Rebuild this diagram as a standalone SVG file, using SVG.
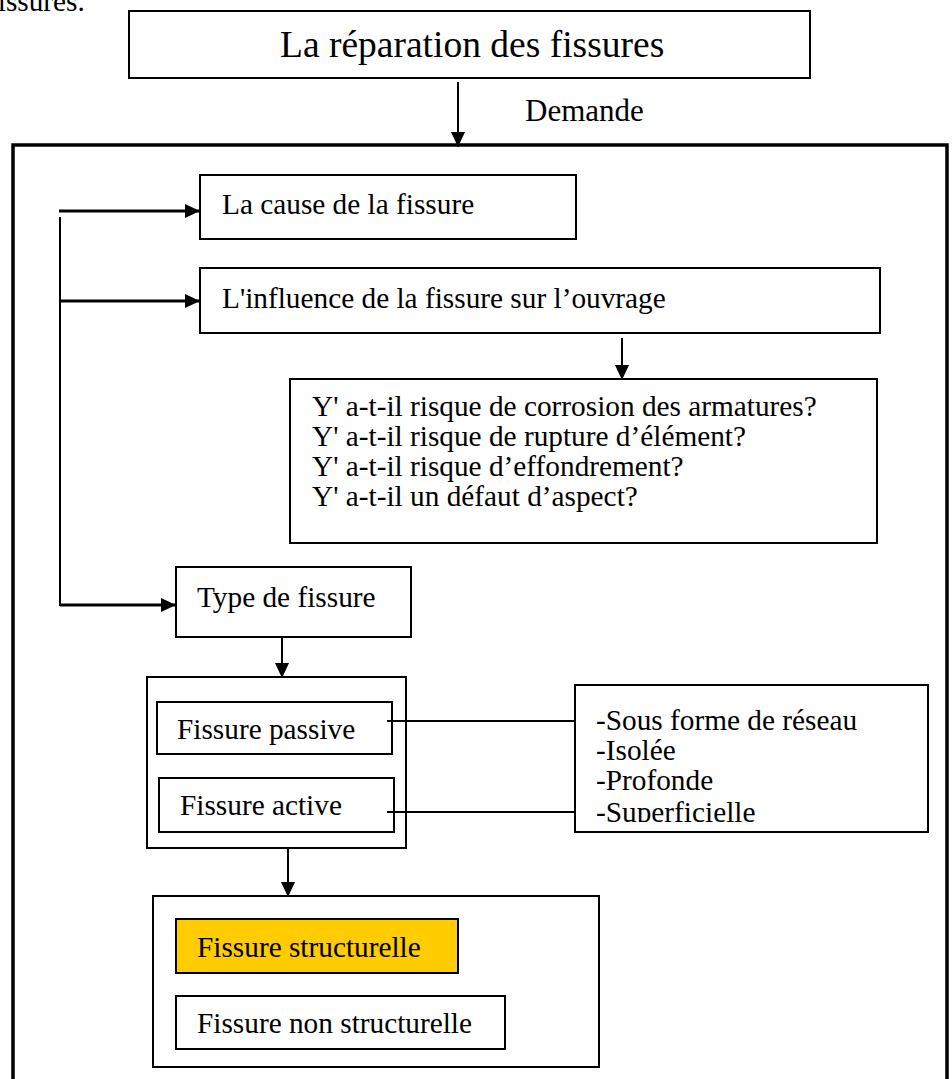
<svg xmlns="http://www.w3.org/2000/svg" width="952" height="1079" viewBox="0 0 952 1079">
<style>
  text { font-family: "Liberation Serif", "Times New Roman", serif; fill: #000; }
  .t { font-size: 29.3px; }
  .box { fill: #fff; stroke: #000; stroke-width: 2; }
  .ln { fill: none; stroke: #000; stroke-width: 2; }
  .lnt { fill: none; stroke: #000; stroke-width: 3; }
</style>
<defs>
  <marker id="ah" markerUnits="userSpaceOnUse" markerWidth="16" markerHeight="14" refX="15" refY="7" orient="auto">
    <path d="M0,0 L15,7 L0,14 z" fill="#000"/>
  </marker>
  <clipPath id="listclip"><rect x="575" y="685" width="353" height="137"/></clipPath>
</defs>
<rect width="952" height="1079" fill="#fff"/>

<text class="t" x="-12" y="11">fissures.</text>

<g id="outer">
  <rect x="13" y="145" width="934" height="980" fill="none" stroke="#000" stroke-width="3.5"/>
</g>

<g id="title">
  <rect class="box" x="129" y="11" width="681" height="67"/>
  <text x="280" y="57" style="font-size:37.5px">La réparation des fissures</text>
</g>

<g id="demande-label">
  <text x="525" y="121" style="font-size:31px">Demande</text>
</g>

<g id="cause">
  <rect class="box" x="200" y="175" width="376" height="64"/>
  <text class="t" x="222" y="214">La cause de la fissure</text>
</g>

<g id="influence">
  <rect class="box" x="200" y="268" width="680" height="65"/>
  <text class="t" x="222" y="308">L'influence de la fissure sur l’ouvrage</text>
</g>

<g id="questions">
  <rect class="box" x="290" y="379" width="587" height="164"/>
  <text class="t" x="312" y="416">Y' a-t-il risque de corrosion des armatures?</text>
  <text class="t" x="312" y="446">Y' a-t-il risque de rupture d’élément?</text>
  <text class="t" x="312" y="476">Y' a-t-il risque d’effondrement?</text>
  <text class="t" x="312" y="506">Y' a-t-il un défaut d’aspect?</text>
</g>

<g id="type">
  <rect class="box" x="176" y="567" width="235" height="70"/>
  <text class="t" x="197" y="607">Type de fissure</text>
</g>

<g id="activity-group">
  <rect class="box" x="147" y="677" width="259" height="171"/>
</g>
<g id="passive">
  <rect class="box" x="157" y="702" width="235" height="52"/>
  <text class="t" x="177" y="739">Fissure passive</text>
</g>
<g id="active">
  <rect class="box" x="159" y="778" width="235" height="54"/>
  <text class="t" x="180" y="815">Fissure active</text>
</g>

<g id="forms">
  <rect class="box" x="575" y="685" width="353" height="147"/>
  <g clip-path="url(#listclip)">
    <text class="t" x="596" y="730">-Sous forme de réseau</text>
    <text class="t" x="596" y="760">-Isolée</text>
    <text class="t" x="596" y="790">-Profonde</text>
    <text class="t" x="596" y="822">-Superficielle</text>
  </g>
</g>

<g id="structure-group">
  <rect class="box" x="153" y="896" width="446" height="171"/>
</g>
<g id="structurelle">
  <rect x="176" y="919" width="282" height="54" fill="#FFCC00" stroke="#000" stroke-width="2"/>
  <text class="t" x="197" y="957">Fissure structurelle</text>
</g>
<g id="non-structurelle">
  <rect class="box" x="176" y="996" width="329" height="53"/>
  <text class="t" x="197" y="1033">Fissure non structurelle</text>
</g>

<g id="connectors">
  <line class="ln" x1="458" y1="82" x2="458" y2="147" marker-end="url(#ah)"/>
  <line class="lnt" x1="59" y1="211" x2="200" y2="211" marker-end="url(#ah)"/>
  <line class="ln" x1="60" y1="217" x2="60" y2="606"/>
  <line class="lnt" x1="60" y1="301" x2="200" y2="301" marker-end="url(#ah)"/>
  <line class="lnt" x1="60" y1="605" x2="176" y2="605" marker-end="url(#ah)"/>
  <line class="ln" x1="622" y1="338" x2="622" y2="380" marker-end="url(#ah)"/>
  <line class="ln" x1="282" y1="637" x2="282" y2="678" marker-end="url(#ah)"/>
  <line class="ln" x1="288" y1="848" x2="288" y2="897" marker-end="url(#ah)"/>
  <line class="ln" x1="387" y1="721" x2="575" y2="721"/>
  <line class="ln" x1="387" y1="812" x2="575" y2="812"/>
</g>
</svg>
